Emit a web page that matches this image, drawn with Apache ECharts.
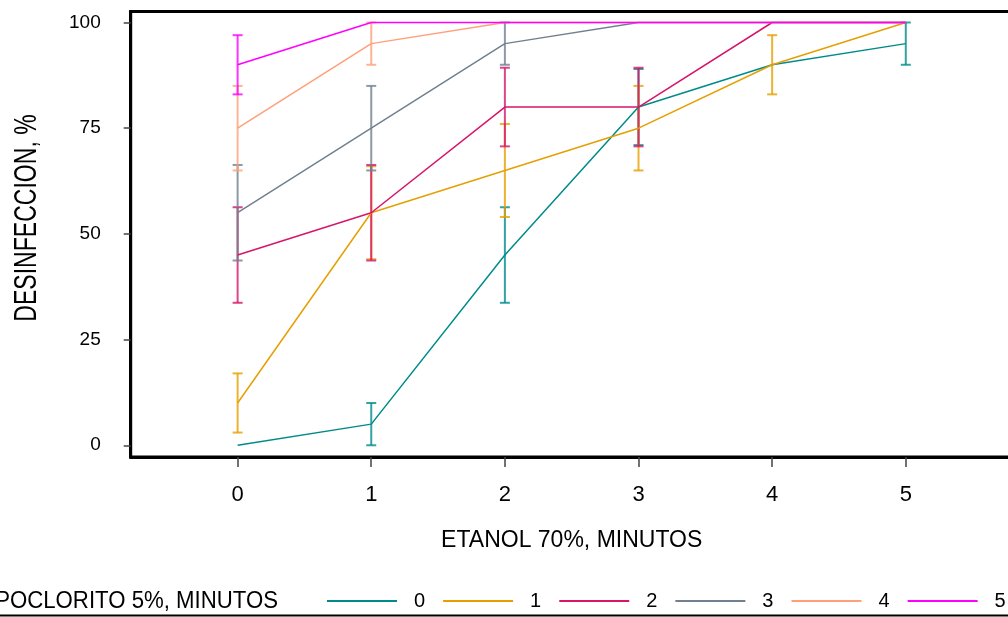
<!DOCTYPE html>
<html>
<head>
<meta charset="utf-8">
<script src="https://cdn.jsdelivr.net/npm/echarts@6/dist/echarts.min.js"></script>
<style>
  html, body { margin: 0; padding: 0; background: #fff; }
  #chart { width: 1008px; height: 617px; }
</style>
</head>
<body>
<div id="chart"></div>
<script>
// ETANOL 70%, minutos
var etanolMin = [0, 1, 2, 3, 4, 5]
// series = HIPOCLORITO 5%, minutos
var seriesNames = ['0', '1', '2', '3', '4', '5']
var seriesColors = ['#008b8b', '#e69f00', '#d6166a', '#708090', '#ffa07a', '#ff00ff']
// % desinfeccion per series
var hipo0 = [0, 5, 45, 80, 90, 95]
var hipo1 = [10, 55, 65, 75, 90, 100]
var hipo2 = [45, 55, 80, 80, 100, 100]
var hipo3 = [55, 75, 95, 100, 100, 100]
var hipo4 = [75, 95, 100, 100, 100, 100]
var hipo5 = [90, 100, 100, 100, 100, 100]
// half length of error bars
var err0 = [0, 5, 11.3, 9, 0, 5]
var err1 = [7, 11, 11, 10, 7, 0]
var err2 = [11.3, 11.3, 9.3, 9.3, 0, 0]
var err3 = [11.3, 10, 5, 0, 0, 0]
var err4 = [10, 5, 0, 0, 0, 0]
var err5 = [7, 0, 0, 0, 0, 0]
var yTicks = [0, 25, 50, 75, 100]

var values = [hipo0, hipo1, hipo2, hipo3, hipo4, hipo5]
var errors = [err0, err1, err2, err3, err4, err5]
var font = 'Liberation Sans, Arial, Helvetica, sans-serif'

var chart = echarts.init(document.getElementById('chart'))

function errBar (params, api) {
  var x = api.value(0)
  var y = api.value(1)
  var e = api.value(2)
  if (!e) return
  var top = api.coord([x, y + e])
  var bot = api.coord([x, y - e])
  var w = 5
  var style = { stroke: api.visual('color'), lineWidth: 2, opacity: 0.8 }
  return {
    type: 'group',
    children: [
      { type: 'line', shape: { x1: top[0], y1: top[1], x2: bot[0], y2: bot[1] }, style: style },
      { type: 'line', shape: { x1: top[0] - w, y1: top[1], x2: top[0] + w, y2: top[1] }, style: style },
      { type: 'line', shape: { x1: bot[0] - w, y1: bot[1], x2: bot[0] + w, y2: bot[1] }, style: style }
    ]
  }
}

var series = []
seriesNames.forEach(function (name, i) {
  series.push({
    name: name,
    type: 'line',
    color: seriesColors[i],
    showSymbol: false,
    lineStyle: { width: 1.5 },
    data: etanolMin.map(function (x, j) { return [x, values[i][j]] })
  })
  series.push({
    name: 'err' + name,
    type: 'custom',
    color: seriesColors[i],
    renderItem: errBar,
    data: etanolMin.map(function (x, j) { return [x, values[i][j], errors[i][j]] })
  })
})

chart.setOption({
  animation: false,
  backgroundColor: '#fff',
  grid: {
    left: 130.7,
    top: 11.5,
    width: 882,
    height: 445.6,
    outerBoundsMode: 'none',
    show: true,
    borderColor: '#000',
    borderWidth: 3
  },
  xAxis: {
    type: 'value',
    min: -0.8,
    max: 5.8,
    name: 'ETANOL 70%, MINUTOS',
    nameLocation: 'middle',
    nameGap: 72,
    nameTextStyle: { color: '#000', fontSize: 23, fontFamily: font },
    splitLine: { show: false },
    axisLine: { onZero: false, lineStyle: { color: '#000', width: 3 } },
    axisTick: { customValues: etanolMin, length: 10, lineStyle: { color: '#444', width: 1.5 } },
    axisLabel: { customValues: etanolMin, margin: 27, color: '#000', fontSize: 22, fontFamily: font }
  },
  yAxis: {
    type: 'value',
    min: -2.8,
    max: 102.6,
    splitLine: { show: false },
    axisLine: { onZero: false, lineStyle: { color: '#000', width: 3 } },
    axisTick: { customValues: yTicks, length: 7, lineStyle: { color: '#444', width: 1.5 } },
    axisLabel: { customValues: yTicks, margin: 30, color: '#000', fontSize: 19, fontFamily: font }
  },
  legend: {
    data: seriesNames,
    left: 327,
    top: 591,
    width: 700,
    padding: 0,
    icon: 'rect',
    itemWidth: 70,
    itemHeight: 2,
    itemGap: 18,
    textStyle: { color: '#000', fontSize: 20, fontFamily: font, padding: [0, 0, 0, 12] }
  },
  graphic: [
    {
      type: 'text',
      x: 27,
      y: 218,
      rotation: Math.PI / 2,
      scaleX: 0.72,
      style: {
        text: 'DESINFECCION, %',
        font: '32px ' + font,
        fill: '#000',
        textAlign: 'center',
        textVerticalAlign: 'middle'
      }
    },
    {
      type: 'text',
      x: 278,
      y: 602,
      scaleX: 0.965,
      style: {
        text: 'HIPOCLORITO 5%, MINUTOS',
        font: '23px ' + font,
        fill: '#000',
        textAlign: 'right',
        textVerticalAlign: 'middle'
      }
    },
    {
      type: 'line',
      shape: { x1: 0, y1: 615.5, x2: 1008, y2: 615.5 },
      style: { stroke: '#000', lineWidth: 2 }
    }
  ],
  series: series
})
</script>
</body>
</html>
